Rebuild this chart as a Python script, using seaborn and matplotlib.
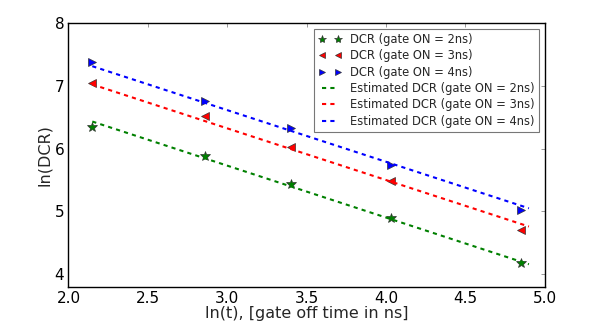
import matplotlib
matplotlib.use('Agg')
import matplotlib.pyplot as plt
import seaborn as sns
import pandas as pd

# ln(t) for gate off times
lnT = [2.15, 2.86, 3.40, 4.03, 4.85]

# measured ln(DCR)
dcr2 = [6.35, 5.88, 5.43, 4.90, 4.18]
dcr3 = [7.05, 6.52, 6.02, 5.48, 4.70]
dcr4 = [7.38, 6.76, 6.32, 5.74, 5.02]

# estimated lines (end points)
fitX = [2.15, 4.90]
fit2 = [6.43, 4.16]
fit3 = [7.02, 4.76]
fit4 = [7.31, 5.05]

sns.set_style('white')
plt.rcParams['font.family'] = ['DejaVu Sans']

fig, ax = plt.subplots(figsize=(6.06, 3.26), dpi=100)
fig.subplots_adjust(left=0.113, right=0.899, bottom=0.12, top=0.93)

measured = [(dcr2, 'g', '*', 'DCR (gate ON = 2ns)', 7),
            (dcr3, 'r', '<', 'DCR (gate ON = 3ns)', 5.5),
            (dcr4, 'b', '>', 'DCR (gate ON = 4ns)', 5.5)]
for vals, c, m, lab, ms in measured:
    df = pd.DataFrame({'x': lnT, 'y': vals})
    sns.lineplot(data=df, x='x', y='y', ax=ax, color=c, marker=m, linestyle='',
                 markersize=ms, markeredgecolor='#333333', markeredgewidth=0.5, label=lab)

fits = [(fit2, 'g', 'Estimated DCR (gate ON = 2ns)'),
        (fit3, 'r', 'Estimated DCR (gate ON = 3ns)'),
        (fit4, 'b', 'Estimated DCR (gate ON = 4ns)')]
for vals, c, lab in fits:
    df = pd.DataFrame({'x': fitX, 'y': vals})
    sns.lineplot(data=df, x='x', y='y', ax=ax, color=c, linestyle=(0, (2, 2)),
                 linewidth=1.5, label=lab)

ax.set_xlim(2.0, 5.0)
ax.set_ylim(3.8, 8.0)
ax.set_xticks([2.0, 2.5, 3.0, 3.5, 4.0, 4.5, 5.0])
ax.set_yticks([4, 5, 6, 7, 8])
ax.set_xlabel('ln(t), [gate off time in ns]', fontsize=11.5, labelpad=0)
ax.set_ylabel('ln(DCR)', fontsize=11.5, labelpad=2)
ax.tick_params(direction='in', length=3, width=0.6, labelsize=11, top=True, right=True, pad=3,
               colors='#888888', labelcolor='black')
for s in ax.spines.values():
    s.set_edgecolor('black')
    s.set_linewidth(1.0)

leg = ax.legend(loc='upper right', numpoints=2, fontsize=8.3, frameon=True, fancybox=False,
                borderaxespad=0.5, handlelength=2.0, labelspacing=0.3, handletextpad=0.8,
                markerscale=0.85, borderpad=0.35)
leg.get_frame().set_edgecolor('#555555')
leg.get_frame().set_linewidth(0.8)

fig.savefig('out.png', dpi=100)
